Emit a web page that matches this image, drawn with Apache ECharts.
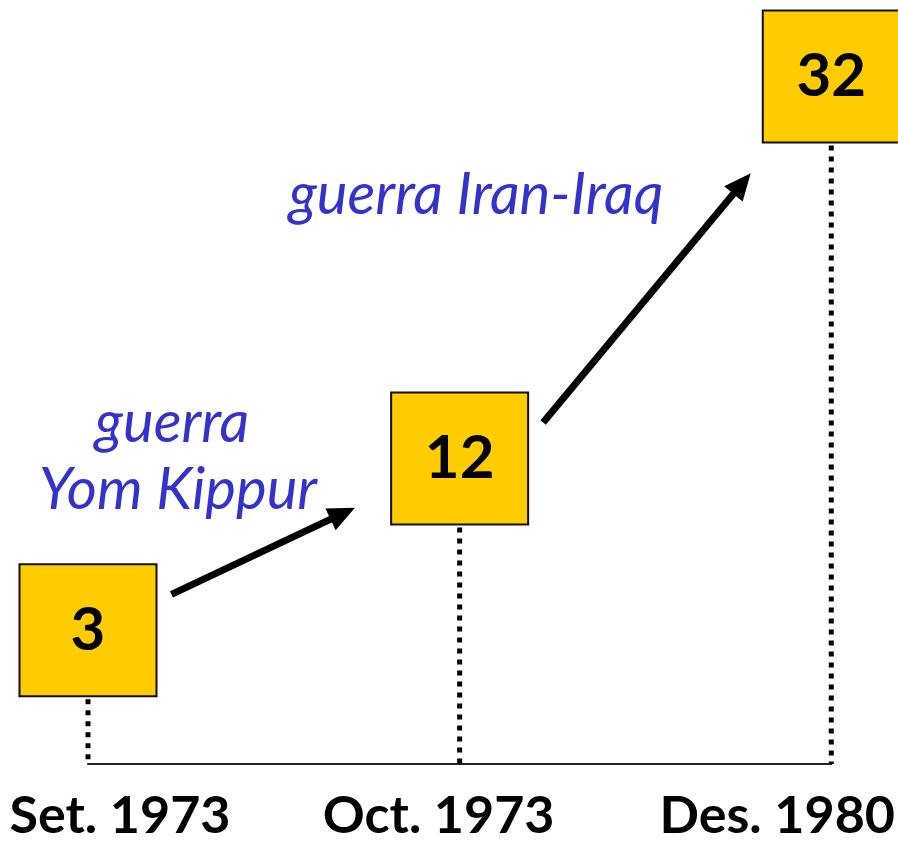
<!DOCTYPE html>
<html>
<head>
<meta charset="utf-8">
<script src="https://cdn.jsdelivr.net/npm/echarts@6/dist/echarts.min.js"></script>
<style>
  html, body { margin: 0; padding: 0; background: #fff; }
  #chart { width: 898px; height: 842px; }
</style>
</head>
<body>
<div id="chart"></div>
<script>
// Oil price milestones (USD per barrel)
const categories = ['Set. 1973', 'Oct. 1973', 'Des. 1980'];
const prices = [3, 12, 32];
// Event captions for each jump
const eventYomKippur = ['guerra', 'Yom Kippur'];
const eventIranIraq = 'guerra Iran-Iraq';

const BOX_W = 137;
const BOX_H = 132;
const Y_MIN = -4;
const Y_MAX = 36;
const LABEL_FONT = 'Lato, "Open Sans", sans-serif';

const points = prices.map((v, i) => [i, v]);
const jumps = [];
for (let i = 1; i < prices.length; i++) {
  jumps.push([i - 1, prices[i - 1], i, prices[i]]);
}

// dotted drop line from the bottom of each box to the baseline
function renderDropLine(params, api) {
  const top = api.coord([api.value(0), api.value(1)]);
  const bottom = api.coord([api.value(0), Y_MIN]);
  return {
    type: 'line',
    shape: { x1: top[0], y1: top[1] + BOX_H / 2 + 3, x2: top[0], y2: bottom[1] },
    style: { stroke: '#000', lineWidth: 5, lineDash: [5, 6] }
  };
}

// arrow leaving one box and pointing at the next one
function renderArrow(params, api) {
  const p0 = api.coord([api.value(0), api.value(1)]);
  const p1 = api.coord([api.value(2), api.value(3)]);
  const tail = [p0[0] + BOX_W / 2 + 15, p0[1] - BOX_H / 2 + 30];
  const dx = p1[0] - tail[0];
  const dy = p1[1] - tail[1];
  const len = Math.hypot(dx, dy);
  const ux = dx / len, uy = dy / len;
  const tEnter = Math.max(1 - (BOX_W / 2) / Math.abs(dx), 1 - (BOX_H / 2) / Math.abs(dy));
  const tipDist = tEnter * len - 40;
  const tip = [tail[0] + ux * tipDist, tail[1] + uy * tipDist];
  const headLen = 27, headHalf = 12;
  const base = [tip[0] - ux * headLen, tip[1] - uy * headLen];
  const nx = -uy, ny = ux;
  return {
    type: 'group',
    children: [
      {
        type: 'line',
        shape: { x1: tail[0], y1: tail[1], x2: base[0] + ux * 2, y2: base[1] + uy * 2 },
        style: { stroke: '#000', lineWidth: 7 }
      },
      {
        type: 'polygon',
        shape: {
          points: [
            tip,
            [base[0] + nx * headHalf, base[1] + ny * headHalf],
            [base[0] - nx * headHalf, base[1] - ny * headHalf]
          ]
        },
        style: { fill: '#000' }
      }
    ]
  };
}

// horizontal nudges of the date labels under the baseline
const labelPads = [[0, 0, 0, 64], [0, 42, 0, 0], [0, 108, 0, 0]];
const labelRich = {};
labelPads.forEach((p, i) => {
  labelRich['l' + i] = {
    padding: p,
    fontFamily: LABEL_FONT,
    fontWeight: 'bold',
    fontSize: 52,
    color: '#000'
  };
});

const chart = echarts.init(document.getElementById('chart'), null, { renderer: 'canvas' });

const captionStyle = {
  fill: '#3333CC',
  fontFamily: LABEL_FONT,
  fontStyle: 'italic',
  fontSize: 58,
  align: 'center',
  verticalAlign: 'middle'
};

chart.setOption({
  animation: false,
  backgroundColor: '#fff',
  grid: { left: 88, right: 62, top: 0, bottom: 76 },
  xAxis: {
    type: 'category',
    data: categories,
    boundaryGap: false,
    axisLine: { onZero: false, lineStyle: { color: '#222', width: 2 } },
    axisTick: { show: false },
    splitLine: { show: false },
    axisLabel: {
      interval: 0,
      margin: 26,
      formatter: (val, idx) => '{l' + idx + '|' + val + '}',
      rich: labelRich
    }
  },
  yAxis: {
    type: 'value',
    min: Y_MIN,
    max: Y_MAX,
    show: false
  },
  series: [
    {
      type: 'custom',
      data: points,
      renderItem: renderDropLine,
      z: 1,
      silent: true
    },
    {
      type: 'custom',
      data: jumps,
      encode: { x: [0, 2], y: [1, 3] },
      renderItem: renderArrow,
      z: 3,
      silent: true
    },
    {
      type: 'scatter',
      data: points,
      symbol: 'rect',
      symbolSize: [BOX_W, BOX_H],
      itemStyle: { color: '#FFCC00', borderColor: '#111', borderWidth: 2, opacity: 1 },
      label: {
        show: true,
        position: 'inside',
        formatter: (p) => String(p.value[1]),
        fontFamily: LABEL_FONT,
        fontWeight: 'bold',
        fontSize: 60,
        color: '#000'
      },
      z: 4
    }
  ],
  graphic: [
    { type: 'text', x: 172, y: 423, style: Object.assign({ text: eventYomKippur[0] }, captionStyle) },
    { type: 'text', x: 178, y: 490, style: Object.assign({ text: eventYomKippur[1] }, captionStyle) },
    { type: 'text', x: 476, y: 195, style: Object.assign({ text: eventIranIraq }, captionStyle) }
  ]
});
</script>
</body>
</html>
